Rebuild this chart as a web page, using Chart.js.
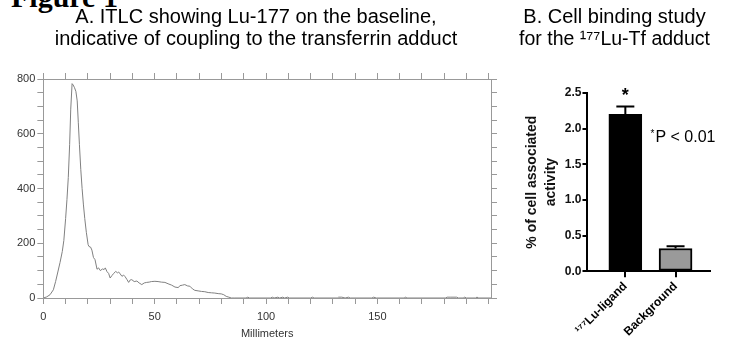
<!DOCTYPE html>
<html>
<head>
<meta charset="utf-8">
<script src="https://cdn.jsdelivr.net/npm/chart.js@4.4.1/dist/chart.umd.min.js"></script>
<style>
  html, body { margin: 0; padding: 0; background: #fff; }
  body { width: 733px; height: 341px; position: relative; overflow: hidden; }
  #fig { position: absolute; left: 11px; top: -18px; font: bold 30px 'Liberation Serif', 'Times New Roman', serif; color: #000; line-height: 30px; }
  #itlc { position: absolute; left: 0; top: 0; }
  #binding { position: absolute; left: 510px; top: 0; }
</style>
</head>
<body>
<div id="fig">Figure 1</div>
<canvas id="itlc" width="510" height="341"></canvas>
<canvas id="binding" width="223" height="341"></canvas>
<script>
// ITLC trace: position (mm) vs counts
const itlcMm = [0, 1.5, 3, 4.5, 5.5, 6.5, 7.5, 8.5, 9.2, 10, 10.6, 11.2, 11.8, 12.3, 12.9, 13.4, 14, 14.6, 15.2, 15.7,
  16.2, 16.8, 17.4, 18, 18.6, 19.3, 20.1, 20.5, 21.2, 21.8, 22.5, 23.2, 24.1, 24.8, 25.6, 26.5, 27.3, 27.8, 28.6, 29.3,
  30, 30.8, 31.6, 32.5, 33.3, 33.8, 34.5, 35.3, 36, 36.7, 37.5, 38.3, 39, 39.7, 40.8, 42, 43, 44.2, 45.3, 46.4,
  47.5, 48.5, 50.1, 51.5, 53, 54.6, 56, 57.6, 59.1, 60.6, 61.3, 62.5, 63.5, 64.8, 65.8, 67, 68, 69.5, 71, 72.5,
  74, 75.5, 77, 78.5, 79.9, 81, 82.1, 83.3, 84.4, 86, 91, 91.8, 92.6, 102, 102.8, 103.6, 105.3, 106.1, 107.5, 108.3,
  109.7, 110.5, 120, 120.8, 121.6, 132, 132.6, 134, 135.5, 137, 137.8, 147.5, 148.3, 149.5, 162, 162.5, 163.3, 180.5, 181.3, 183,
  185.6, 186.4, 188.5, 189.2, 190, 194, 194.7, 195.5, 201];
const itlcCounts = [0, 4, 12, 30, 60, 95, 130, 170, 210, 290, 360, 440, 560, 690, 783, 778, 768, 755, 720, 640,
  560, 470, 400, 340, 290, 240, 195, 188, 186, 175, 148, 140, 105, 110, 100, 106, 104, 110, 96, 90,
  73, 82, 90, 97, 92, 95, 88, 79, 84, 78, 68, 57, 66, 67, 60, 62, 55, 49, 55, 57,
  58, 60, 61, 60, 58, 57, 52, 47, 40, 38, 45, 47, 49, 44, 43, 33, 28, 26, 24, 23,
  20, 19, 18, 16, 15, 12, 6, 3, 0, 0, 0, 3, 0, 0, 3, 0, 3, 0, 3, 0,
  3, 0, 0, 3, 0, 0, 3, 3, 0, 3, 0, 0, 3, 0, 0, 3, 0, 0, 3, 3,
  3, 0, 0, 3, 0, 0, 3, 0, 0];

// cell binding study
const bindLabels = ['\u00B9\u2077\u2077Lu-ligand', 'Background'];
const bindValues = [2.2, 0.32];
const bindErrors = [0.11, 0.03];
const bindColors = ['#000000', '#9a9a9a'];

Chart.defaults.font.family = "'Liberation Sans', Arial, sans-serif";
Chart.defaults.animation = false;

const grayAxis = '#999999';

new Chart(document.getElementById('itlc'), {
  type: 'line',
  data: {
    datasets: [{
      data: itlcMm.map((m, i) => ({ x: m, y: itlcCounts[i] })),
      borderColor: '#808080',
      borderWidth: 1,
      pointRadius: 0,
      tension: 0
    }]
  },
  options: {
    responsive: false,
    layout: { padding: { left: 15, right: 13, top: 0, bottom: 0 } },
    plugins: {
      legend: { display: false },
      tooltip: { enabled: false },
      title: {
        display: true,
        text: ['A. ITLC showing Lu-177 on the baseline,', 'indicative of coupling to the transferrin adduct'],
        color: '#000',
        font: { size: 20, weight: 'normal', lineHeight: 1.1 },
        padding: { top: 6, bottom: 23 }
      }
    },
    scales: {
      x: {
        type: 'linear', position: 'bottom', min: 0, max: 201,
        afterFit: axis => { axis.height = 43; },
        grid: { drawOnChartArea: false, tickLength: 6, color: grayAxis },
        border: { color: grayAxis },
        ticks: {
          stepSize: 10, includeBounds: false, maxRotation: 0, autoSkip: false, padding: 6,
          color: '#333', font: { size: 11 },
          callback: v => (v % 50 === 0 && v <= 150) ? v : ''
        },
        title: { display: true, text: 'Millimeters', color: '#333', font: { size: 11 }, padding: { top: 2, bottom: 0 } }
      },
      x2: {
        type: 'linear', position: 'top', min: 0, max: 201,
        grid: { drawOnChartArea: false, tickLength: 6, color: grayAxis },
        border: { color: grayAxis },
        ticks: { display: false, stepSize: 10, includeBounds: false }
      },
      y: {
        min: 0, max: 800,
        grid: { drawOnChartArea: false, tickLength: 6, color: grayAxis },
        border: { color: grayAxis },
        ticks: {
          stepSize: 50, autoSkip: false, padding: 2, color: '#333', font: { size: 11 },
          callback: v => v % 200 === 0 ? v : ''
        }
      },
      y2: {
        position: 'right', min: 0, max: 800,
        grid: { drawOnChartArea: false, tickLength: 6, color: grayAxis },
        border: { color: grayAxis },
        ticks: { display: false, stepSize: 50 }
      }
    }
  }
});

// error bars and significance labels for the bar chart
const bindExtras = {
  id: 'bindExtras',
  afterDatasetsDraw(chart) {
    const { ctx, scales: { x, y } } = chart;
    ctx.save();
    ctx.strokeStyle = '#000';
    ctx.lineWidth = 2;
    bindValues.forEach((v, i) => {
      const px = x.getPixelForValue(i);
      const top = y.getPixelForValue(v + bindErrors[i]);
      ctx.beginPath();
      ctx.moveTo(px, y.getPixelForValue(v));
      ctx.lineTo(px, top);
      ctx.moveTo(px - 9, top);
      ctx.lineTo(px + 9, top);
      ctx.stroke();
    });
    ctx.fillStyle = '#000';
    ctx.textBaseline = 'alphabetic';
    ctx.textAlign = 'center';
    ctx.font = "bold 18px 'Liberation Sans', Arial, sans-serif";
    ctx.fillText('*', x.getPixelForValue(0), y.getPixelForValue(bindValues[0] + bindErrors[0]) - 6);
    ctx.textAlign = 'left';
    const sx = x.getPixelForValue(0.5);
    const sy = y.getPixelForValue(1.9);
    ctx.font = "10px 'Liberation Sans', Arial, sans-serif";
    ctx.fillText('*', sx, sy + 1);
    ctx.font = "16px 'Liberation Sans', Arial, sans-serif";
    ctx.fillText('P < 0.01', sx + 5, sy + 6);
    ctx.restore();
  }
};

new Chart(document.getElementById('binding'), {
  type: 'bar',
  data: {
    datasets: [{
      data: bindValues.map((v, i) => ({ x: i, y: v })),
      backgroundColor: bindColors,
      borderColor: '#000',
      borderWidth: 2,
      borderSkipped: false,
      barThickness: 33
    }]
  },
  options: {
    responsive: false,
    layout: { padding: { left: 9, right: 23, top: 0, bottom: 0 } },
    plugins: {
      legend: { display: false },
      tooltip: { enabled: false },
      title: {
        display: true,
        text: ['B. Cell binding study', 'for the \u00B9\u2077\u2077Lu-Tf adduct'],
        color: '#000',
        font: { size: 20, weight: 'normal', lineHeight: 1.1 },
        padding: { top: 6, bottom: 43 }
      }
    },
    scales: {
      x: {
        type: 'linear', min: -0.754, max: 1.686, offset: false,
        afterBuildTicks: axis => { axis.ticks = bindLabels.map((l, i) => ({ value: i })); },
        grid: { drawOnChartArea: false, offset: false, tickLength: 6, color: '#000', lineWidth: 2 },
        border: { color: '#000', width: 2 },
        ticks: {
          minRotation: 45, maxRotation: 45, autoSkip: false, padding: 2,
          color: '#000', font: { size: 12, weight: 'bold' },
          callback: v => bindLabels[v]
        }
      },
      y: {
        min: 0, max: 2.5,
        grid: { drawOnChartArea: false, tickLength: 5, color: '#000', lineWidth: 2 },
        border: { color: '#000', width: 2 },
        ticks: {
          stepSize: 0.5, padding: 1, color: '#111', font: { size: 12, weight: 'bold' },
          callback: v => v.toFixed(1)
        },
        title: {
          display: true, text: ['% of cell associated', 'activity'], color: '#111',
          font: { size: 14, weight: 'bold', lineHeight: 1.35 }, padding: { top: 4, bottom: 3 }
        }
      }
    }
  },
  plugins: [bindExtras]
});
</script>
</body>
</html>
